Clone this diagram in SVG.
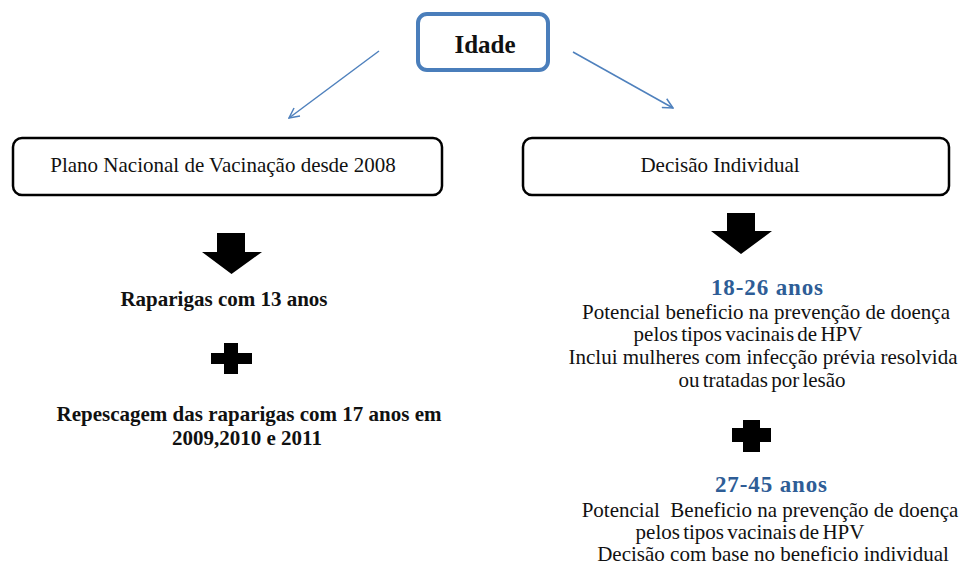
<svg xmlns="http://www.w3.org/2000/svg" width="968" height="565" viewBox="0 0 968 565">
<style>
.box{fill:#fff;stroke:#000;stroke-width:2.5}
.t{font-family:"Liberation Serif","Times New Roman",serif;fill:#111;text-anchor:middle}
.n{font-size:21px}
.s{font-size:21px;word-spacing:-2px}
.b{font-size:21px;font-weight:bold}
.blue{fill:#2e5d96;font-size:23px;font-weight:bold}
.conn{stroke:#4f81bd;stroke-width:1.5;fill:none}
.sym{fill:#000}
</style>
<defs>
<marker id="open" viewBox="0 0 12 12" refX="11" refY="6" markerWidth="12" markerHeight="12" markerUnits="userSpaceOnUse" orient="auto">
<polyline points="1,1 11,6 1,11" fill="none" stroke="#4f81bd" stroke-width="1.5"/>
</marker>
</defs>
<rect width="968" height="565" fill="#fff"/>
<g id="connectors">
<line class="conn" x1="379" y1="51" x2="289" y2="118" marker-end="url(#open)"/>
<line class="conn" x1="573" y1="52" x2="673" y2="108" marker-end="url(#open)"/>
</g>
<g id="idade">
<rect x="418" y="14" width="130" height="56" rx="9" fill="#fff" stroke="#4a7ebb" stroke-width="4"/>
<text class="t" x="485" y="53" style="font-size:25px;font-weight:bold">Idade</text>
</g>
<g id="plano">
<rect class="box" x="13" y="138" width="429" height="57" rx="9"/>
<text class="t n" x="223" y="172">Plano Nacional de Vacinação desde 2008</text>
</g>
<g id="decisao">
<rect class="box" x="523" y="138" width="426" height="57" rx="9"/>
<text class="t n" x="720" y="172">Decisão Individual</text>
</g>
<g id="left-col">
<polygon class="sym" points="217,233 245,233 245,252 262,252 231.5,274 202,252 217,252"/>
<text class="t b" x="224" y="306">Raparigas com 13 anos</text>
<polygon class="sym" points="224,343 238,343 238,353 252,353 252,364 238,364 238,374 224,374 224,364 211,364 211,353 224,353"/>
<text class="t b" x="249" y="421">Repescagem das raparigas com 17 anos em</text>
<text class="t b" x="247" y="445">2009,2010 e 2011</text>
</g>
<g id="right-col">
<polygon class="sym" points="727,213 755,213 755,231 772,231 741,254 711,231 727,231"/>
<text class="t blue" x="767" y="295" textLength="112" lengthAdjust="spacing">18-26 anos</text>
<text class="t n" x="766" y="319">Potencial beneficio na prevenção de doença</text>
<text class="t s" x="748" y="341">pelos tipos vacinais de HPV</text>
<text class="t n" x="763" y="364">Inclui mulheres com infecção prévia resolvida</text>
<text class="t s" x="762" y="387">ou tratadas por lesão</text>
<polygon class="sym" points="743,420 760,420 760,428 771,428 771,442 760,442 760,452 743,452 743,442 732,442 732,428 743,428"/>
<text class="t blue" x="771" y="492" textLength="112" lengthAdjust="spacing">27-45 anos</text>
<text class="t n" x="770" y="517" style="white-space:pre">Potencial  Beneficio na prevenção de doença</text>
<text class="t s" x="750" y="539">pelos tipos vacinais de HPV</text>
<text class="t n" x="773" y="561">Decisão com base no beneficio individual</text>
</g>
</svg>
